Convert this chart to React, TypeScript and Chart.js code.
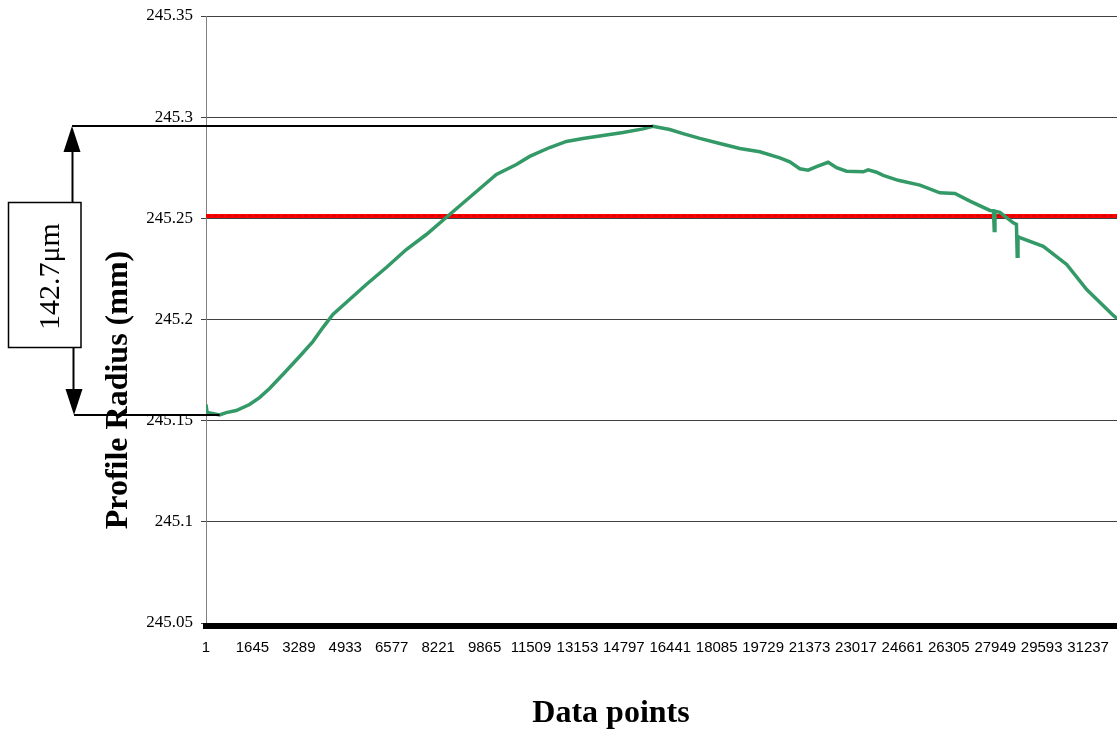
import { useEffect, useRef } from "react";
import { Chart, registerables } from "chart.js";

Chart.register(...registerables);

// Measured profile: sample position (data point number) and radius in mm
const sampleIndex = [
  1, 40, 231, 479, 717, 1071, 1542, 1896, 2251, 2722,
  3313, 3785, 4139, 4494, 5085, 5677, 6386, 7094, 7803, 8628,
  9454, 10283, 10992, 11463, 12172, 12763, 13351, 14060, 14768, 15477,
  15821, 16423, 16894, 17486, 18194, 18903, 19612, 20320, 20674, 21029,
  21323, 21620, 22031, 22329, 22683, 23271, 23449, 23746, 23980, 24512,
  25281, 25990, 26521, 27053, 27761, 27885, 27913, 27938, 28114, 28586,
  28699, 28727, 28754, 28823, 29649, 30478, 31187, 32130, 32260,
];

const radius = [
  245.158, 245.154, 245.1535, 245.1528, 245.154, 245.155, 245.158, 245.1614, 245.1659, 245.1728,
  245.1817, 245.1891, 245.196, 245.2025, 245.2099, 245.2173, 245.2257, 245.2346, 245.242, 245.2519,
  245.2618, 245.2717, 245.2766, 245.2806, 245.285, 245.288, 245.2895, 245.2909, 245.2924, 245.2942,
  245.2955, 245.2939, 245.2919, 245.2895, 245.287, 245.2845, 245.2829, 245.2799, 245.2779, 245.2745,
  245.2738, 245.2755, 245.2777, 245.275, 245.2733, 245.273, 245.274, 245.2728, 245.2712, 245.2688,
  245.2664, 245.2626, 245.2623, 245.2585, 245.2539, 245.2537, 245.244, 245.2535, 245.253, 245.2478,
  245.247, 245.2313, 245.241, 245.2405, 245.2362, 245.2272, 245.2148, 245.202, 245.2005,
];

// Nominal (reference) radius drawn as the red line
const referenceRadius = 245.2512;

const firstIndex = 1;
const lastIndex = 32260;

const xTickValues = [
  1, 1645, 3289, 4933, 6577, 8221, 9865, 11509, 13153, 14797,
  16441, 18085, 19729, 21373, 23017, 24661, 26305, 27949, 29593, 31237,
];
const yTickValues = [245.05, 245.1, 245.15, 245.2, 245.25, 245.3, 245.35];
const yTickLabels = ["245.05", "245.1", "245.15", "245.2", "245.25", "245.3", "245.35"];

const xTitle = "Data points";
const yTitle = "Profile Radius (mm)";

const SERIF = "'Liberation Serif', 'Times New Roman', serif";
const SANS = "'Liberation Sans', Arial, sans-serif";

// Draws the heavy baseline, the peak-to-valley dimension and the axis titles
const decorations = {
  id: "decorations",
  afterDraw(chart: any) {
    const { ctx, chartArea, scales } = chart;
    const x = scales.x;
    const y = scales.y;

    ctx.save();

    // heavy category-axis bar
    ctx.fillStyle = "#000";
    ctx.fillRect(chartArea.left - 3, chartArea.bottom, chartArea.right - chartArea.left + 3, 6);

    // peak and valley of the profile
    let maxI = 0;
    let minI = 0;
    radius.forEach((v, i) => {
      if (v > radius[maxI]) maxI = i;
      if (v < radius[minI]) minI = i;
    });
    const yTop = Math.round(y.getPixelForValue(radius[maxI]));
    const yBot = Math.round(y.getPixelForValue(radius[minI]));
    const xPeak = x.getPixelForValue(sampleIndex[maxI]);
    const xLow = x.getPixelForValue(sampleIndex[minI]);

    ctx.strokeStyle = "#000";
    ctx.fillStyle = "#000";
    ctx.lineWidth = 2;

    const seg = (x1: number, y1: number, x2: number, y2: number) => {
      ctx.beginPath();
      ctx.moveTo(x1, y1);
      ctx.lineTo(x2, y2);
      ctx.stroke();
    };

    // extension lines
    seg(72, yTop, xPeak, yTop);
    seg(74, yBot, xLow, yBot);

    // dimension box
    const mid = (yTop + yBot) / 2 + 4;
    const boxH = 145;
    const boxTop = Math.round(mid - boxH / 2) + 0.5;
    const boxBottom = boxTop + boxH;
    const head = 26;

    seg(72.5, yTop + head, 72.5, boxTop);
    seg(73.5, boxBottom, 73.5, yBot - head);

    // arrow heads
    ctx.beginPath();
    ctx.moveTo(72, yTop);
    ctx.lineTo(63.5, yTop + head);
    ctx.lineTo(80.5, yTop + head);
    ctx.closePath();
    ctx.fill();

    ctx.beginPath();
    ctx.moveTo(74, yBot);
    ctx.lineTo(65.5, yBot - head);
    ctx.lineTo(82.5, yBot - head);
    ctx.closePath();
    ctx.fill();

    ctx.lineWidth = 1.5;
    ctx.fillStyle = "#fff";
    ctx.fillRect(8.5, boxTop, 72.5, boxH);
    ctx.strokeRect(8.5, boxTop, 72.5, boxH);

    const spanUm = ((radius[maxI] - radius[minI]) * 1000).toFixed(1) + "\u03bcm";
    ctx.fillStyle = "#000";
    ctx.font = `30px ${SERIF}`;
    ctx.textAlign = "center";
    ctx.textBaseline = "alphabetic";
    ctx.save();
    ctx.translate(58.5, mid + 2);
    ctx.rotate(-Math.PI / 2);
    ctx.fillText(spanUm, 0, 0);
    ctx.restore();

    // axis titles
    ctx.font = `bold 32px ${SERIF}`;
    ctx.save();
    ctx.translate(127, 390);
    ctx.rotate(-Math.PI / 2);
    ctx.fillText(yTitle, 0, 0);
    ctx.restore();

    ctx.fillText(xTitle, 611, 722);

    ctx.restore();
  },
};

export default function App() {
  const canvasRef = useRef<HTMLCanvasElement | null>(null);

  useEffect(() => {
    const canvas = canvasRef.current;
    if (!canvas) return;

    const profile = sampleIndex.map((n, i) => ({ x: n, y: radius[i] }));
    const nominal = [
      { x: firstIndex, y: referenceRadius },
      { x: lastIndex, y: referenceRadius },
    ];

    const chart = new Chart(canvas, {
      type: "line",
      data: {
        datasets: [
          {
            label: "Profile radius",
            data: profile,
            borderColor: "#339966",
            borderWidth: 3.5,
            pointRadius: 0,
            tension: 0,
            fill: false,
          },
          {
            label: "Nominal radius core",
            data: nominal,
            borderColor: "rgba(110, 0, 0, 0.55)",
            borderWidth: 1,
            borderDash: [4, 3],
            pointRadius: 0,
            fill: false,
          },
          {
            label: "Nominal radius",
            data: nominal,
            borderColor: "#ff0000",
            borderWidth: 4,
            pointRadius: 0,
            fill: false,
          },
        ],
      },
      options: {
        responsive: false,
        animation: false,
        devicePixelRatio: 1,
        events: [],
        layout: { padding: { top: 16, right: 0, bottom: 0, left: 0 } },
        plugins: {
          legend: { display: false },
          tooltip: { enabled: false },
        },
        scales: {
          x: {
            type: "linear",
            min: firstIndex,
            max: lastIndex,
            afterFit: (s: any) => {
              s.height = 106;
              s.paddingLeft = 0;
              s.paddingRight = 0;
            },
            afterBuildTicks: (s: any) => {
              s.ticks = xTickValues.map((v) => ({ value: v }));
            },
            grid: { display: false, drawTicks: false },
            border: { display: false },
            ticks: {
              autoSkip: false,
              maxRotation: 0,
              minRotation: 0,
              padding: 16,
              color: "#000",
              font: { family: SANS, size: 15 },
              callback: (_v: any, i: number) => String(xTickValues[i]),
            },
          },
          y: {
            type: "linear",
            min: 245.05,
            max: 245.35,
            afterFit: (s: any) => {
              s.width = 206;
              s.paddingTop = 0;
              s.paddingBottom = 0;
            },
            afterBuildTicks: (s: any) => {
              s.ticks = yTickValues.map((v) => ({ value: v }));
            },
            grid: {
              color: "#404040",
              lineWidth: 1,
              drawTicks: true,
              tickLength: 5,
              tickColor: "#404040",
            },
            border: { display: true, color: "#808080", width: 1 },
            ticks: {
              padding: 8,
              color: "#000",
              font: { family: SERIF, size: 17 },
              callback: (_v: any, i: number) => yTickLabels[i],
            },
          },
        },
      },
      plugins: [decorations],
    });

    return () => chart.destroy();
  }, []);

  return (
    <div
      style={{
        position: "fixed",
        left: 0,
        top: 0,
        width: 1117,
        height: 729,
        background: "#fff",
      }}
    >
      <canvas
        ref={canvasRef}
        width={1117}
        height={729}
        style={{ display: "block", width: 1117, height: 729 }}
      />
    </div>
  );
}
